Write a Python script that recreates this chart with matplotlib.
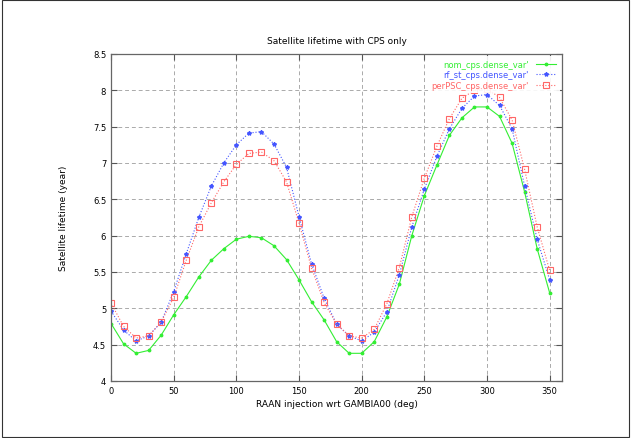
import matplotlib
matplotlib.use('Agg')
import matplotlib.pyplot as plt
from matplotlib.patches import Rectangle

# RAAN injection angle (deg)
raan = [0, 10, 20, 30, 40, 50, 60, 70, 80, 90, 100, 110, 120, 130, 140, 150, 160, 170,
        180, 190, 200, 210, 220, 230, 240, 250, 260, 270, 280, 290, 300, 310, 320, 330, 340, 350]

# satellite lifetime (year) per case
nom_life = [4.79, 4.51, 4.38, 4.42, 4.63, 4.91, 5.16, 5.43, 5.66, 5.82, 5.95, 5.99, 5.97, 5.86,
            5.67, 5.39, 5.09, 4.84, 4.54, 4.38, 4.38, 4.54, 4.88, 5.33, 6.00, 6.55, 6.97, 7.38,
            7.62, 7.77, 7.77, 7.64, 7.27, 6.60, 5.82, 5.21]
rf_life = [4.96, 4.70, 4.55, 4.62, 4.81, 5.23, 5.75, 6.25, 6.68, 7.00, 7.25, 7.41, 7.43, 7.26,
           6.94, 6.26, 5.61, 5.14, 4.78, 4.62, 4.55, 4.67, 4.95, 5.46, 6.12, 6.64, 7.09, 7.47,
           7.75, 7.92, 7.94, 7.79, 7.47, 6.68, 5.95, 5.39]
per_life = [5.07, 4.75, 4.59, 4.62, 4.81, 5.15, 5.66, 6.12, 6.45, 6.74, 6.98, 7.13, 7.15, 7.03,
            6.74, 6.17, 5.55, 5.08, 4.78, 4.62, 4.59, 4.71, 5.06, 5.56, 6.26, 6.79, 7.23, 7.61,
            7.89, 8.00, 8.02, 7.90, 7.59, 6.91, 6.12, 5.52]

labels = ["nom_cps.dense_var'", "rf_st_cps.dense_var'", "perPSC_cps.dense_var'"]
xticks = [0, 50, 100, 150, 200, 250, 300, 350]
yticks = [4, 4.5, 5, 5.5, 6, 6.5, 7, 7.5, 8, 8.5]

plt.rcParams['font.family'] = 'DejaVu Sans'
fig = plt.figure(figsize=(6.31, 4.39), dpi=100)
ax = fig.add_axes([0.176, 0.130, 0.715, 0.745])

ax.plot(raan, nom_life, '.-', color='#33ee33', lw=0.8, ms=3.5, label=labels[0])
ax.plot(raan, rf_life, '*:', color='#4455ff', lw=0.8, ms=3, label=labels[1])
ax.plot(raan, per_life, 's:', color='#ff6666', lw=0.8, ms=5, mfc='none', mew=0.8, label=labels[2])

ax.set_xlim(0, 360)
ax.set_ylim(4, 8.5)
ax.set_xticks(xticks)
ax.set_yticks(yticks)
ax.set_yticklabels([('%g' % v) for v in yticks])
ax.tick_params(direction='in', top=True, right=True, labelsize=6, length=4, color='#555555')
ax.grid(True, ls=(0, (4, 3)), color='#aaaaaa', lw=0.7)
for s in ax.spines.values():
    s.set_color('#666666')
    s.set_linewidth(0.9)

ax.set_title('Satellite lifetime with CPS only', fontsize=6.5, pad=8)
ax.set_xlabel('RAAN injection wrt GAMBIA00 (deg)', fontsize=6.5, labelpad=3)
ax.set_ylabel('Satellite lifetime (year)', fontsize=6.5, labelpad=18)

leg = ax.legend(loc='upper right', fontsize=6, markerfirst=False, labelcolor='linecolor',
                frameon=True, facecolor='white', edgecolor='none', framealpha=0.9,
                handlelength=2.5, borderaxespad=0.3, labelspacing=0.2, fancybox=False)

fig.patches.append(Rectangle((0.003, 0.003), 0.994, 0.994, transform=fig.transFigure,
                             fill=False, edgecolor='#333333', lw=0.8))
fig.savefig('out.png', dpi=100)
